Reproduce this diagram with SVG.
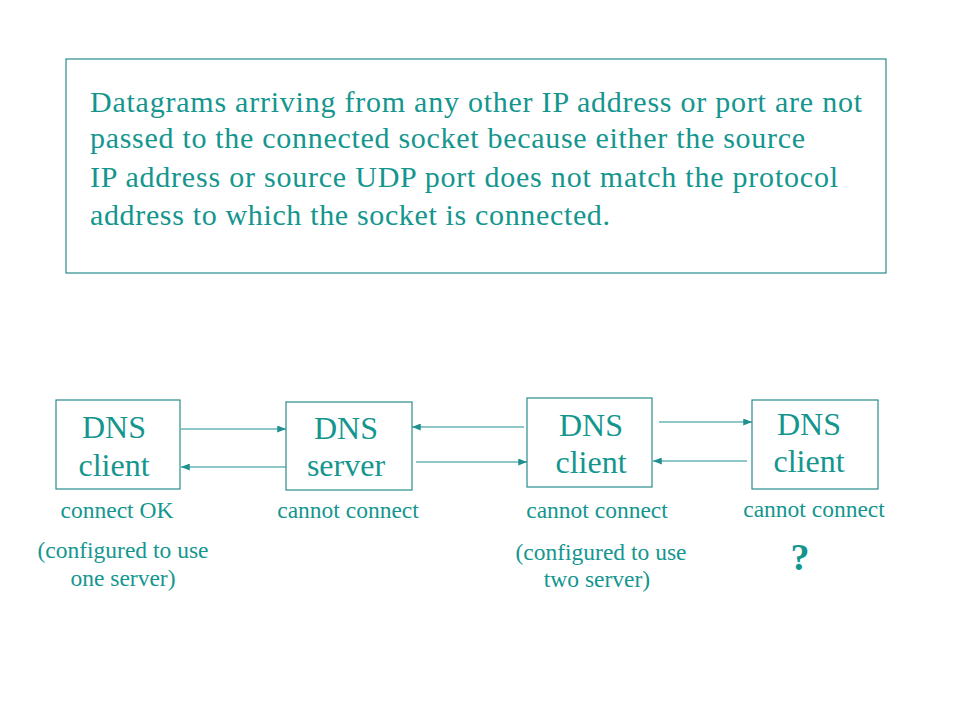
<svg xmlns="http://www.w3.org/2000/svg" width="960" height="720" viewBox="0 0 960 720">
<defs>
<style>
.t{font-family:"Liberation Serif","Times New Roman",serif;fill:#14968f}
.big{font-size:30px}
.node{font-size:32px;text-anchor:middle}
.lab{font-size:23.5px;text-anchor:middle}
.box{fill:#ffffff;stroke:#2a8c8c;stroke-width:1.2}
.ln{stroke:#1f8f8f;stroke-width:1.2;fill:none;marker-end:url(#ah)}
</style>
<marker id="ah" viewBox="0 0 10 8" refX="10" refY="4" markerWidth="9" markerHeight="7" markerUnits="userSpaceOnUse" orient="auto">
<path d="M0,0 L10,4 L0,8 z" fill="#1f8f8f"/>
</marker>
</defs>
<rect width="960" height="720" fill="#ffffff"/>
<g id="note">
<rect class="box" x="66" y="59" width="820" height="214"/>
<text class="t big" x="90" y="112" textLength="772" lengthAdjust="spacing">Datagrams arriving from any other IP address or port are not</text>
<text class="t big" x="90" y="148" textLength="715" lengthAdjust="spacing">passed to the connected socket because either the source</text>
<text class="t big" x="90" y="187" textLength="748" lengthAdjust="spacing">IP address or source UDP port does not match the protocol</text>
<text class="t big" x="90" y="225" textLength="520" lengthAdjust="spacing">address to which the socket is connected.</text>
</g>
<g id="connectors">
<line class="ln" x1="181" y1="429" x2="286" y2="429"/>
<line class="ln" x1="289" y1="467" x2="181" y2="467"/>
<line class="ln" x1="524" y1="427" x2="412" y2="427"/>
<line class="ln" x1="416" y1="462" x2="527" y2="462"/>
<line class="ln" x1="659" y1="422" x2="752" y2="422"/>
<line class="ln" x1="747" y1="461" x2="653" y2="461"/>
</g>
<g id="client1">
<rect class="box" x="56" y="400" width="124" height="89"/>
<text class="t node" x="114" y="438">DNS</text>
<text class="t node" x="114" y="476">client</text>
<text class="t lab" x="117" y="518">connect OK</text>
<text class="t lab" x="123" y="558">(configured to use</text>
<text class="t lab" x="123" y="586">one server)</text>
</g>
<g id="server">
<rect class="box" x="286" y="402" width="126" height="88"/>
<text class="t node" x="346" y="439">DNS</text>
<text class="t node" x="346" y="476">server</text>
<text class="t lab" x="348" y="518">cannot connect</text>
</g>
<g id="client2">
<rect class="box" x="527" y="398" width="125" height="89"/>
<text class="t node" x="591" y="436">DNS</text>
<text class="t node" x="591" y="473">client</text>
<text class="t lab" x="597" y="518">cannot connect</text>
<text class="t lab" x="601" y="560">(configured to use</text>
<text class="t lab" x="597" y="587">two server)</text>
</g>
<g id="client3">
<rect class="box" x="752" y="400" width="126" height="89"/>
<text class="t node" x="809" y="435">DNS</text>
<text class="t node" x="809" y="472">client</text>
<text class="t lab" x="814" y="517">cannot connect</text>
<text class="t" x="800" y="570" style="font-size:38px;font-weight:bold;text-anchor:middle">?</text>
</g>
</svg>
